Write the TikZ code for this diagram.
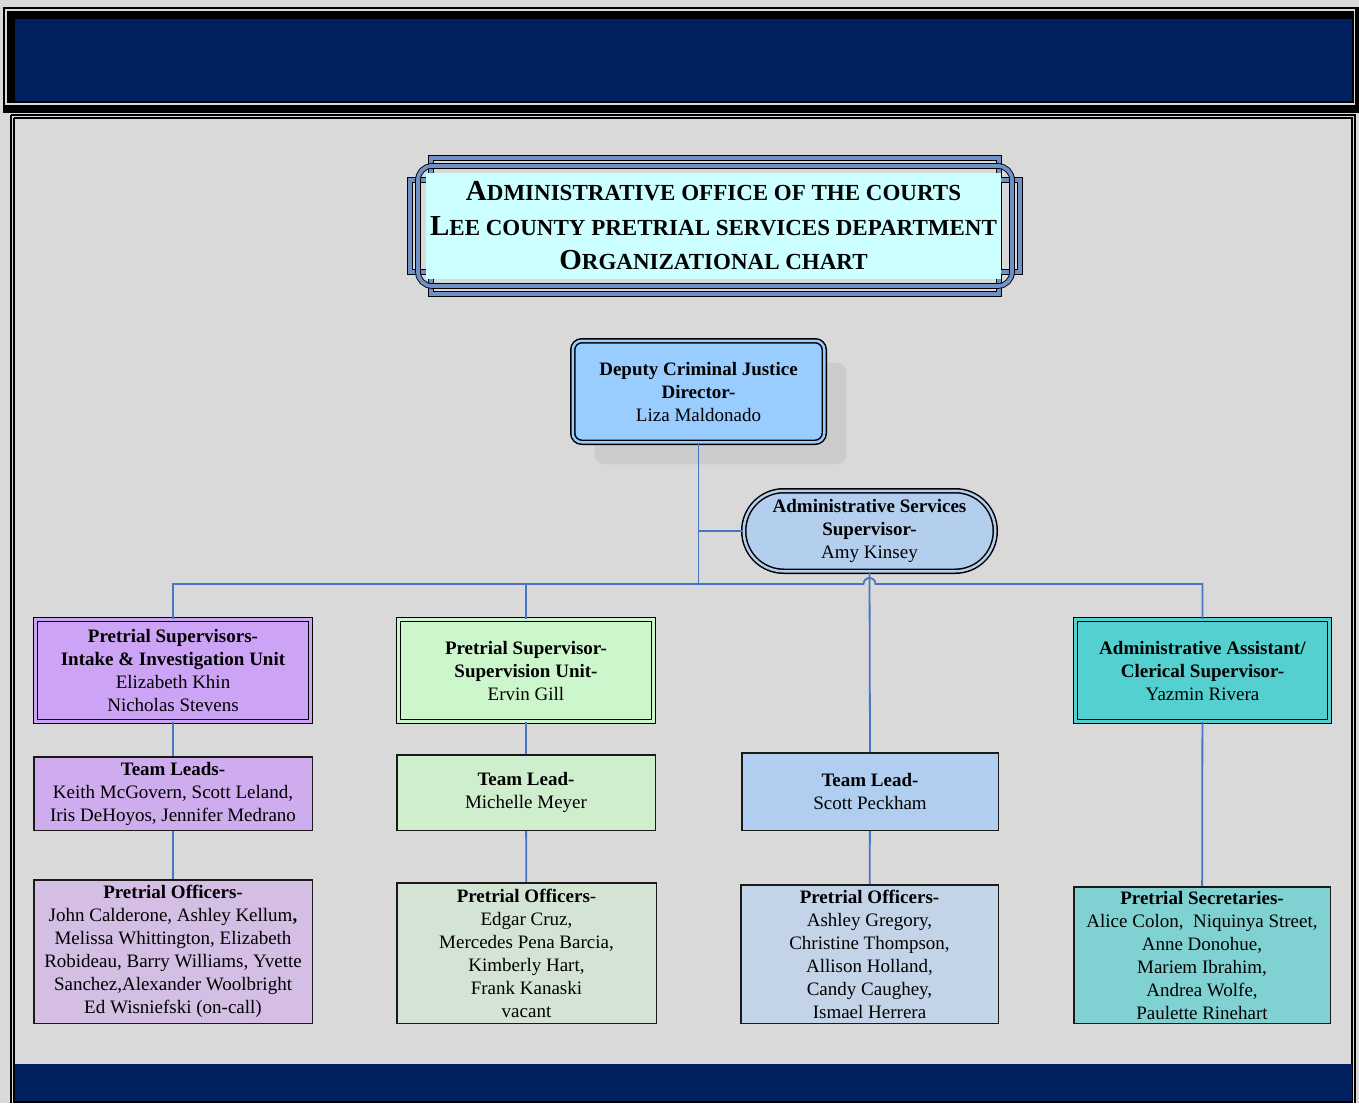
\documentclass[tikz,border=0pt]{standalone}
\usepackage{fontspec}
\setmainfont{Liberation Serif}
\usetikzlibrary{positioning,shadows}
\definecolor{pagegray}{RGB}{217,217,217}
\definecolor{shadowgray}{RGB}{204,204,204}
\definecolor{navy}{RGB}{0,32,96}
\definecolor{titlecyan}{RGB}{204,255,255}
\definecolor{frameblue}{RGB}{112,144,200}
\definecolor{linkblue}{RGB}{72,118,196}
\definecolor{dirblue}{RGB}{153,204,255}
\definecolor{adsblue}{RGB}{180,206,238}
\definecolor{purpleA}{RGB}{205,163,245}
\definecolor{purpleB}{RGB}{206,172,238}
\definecolor{purpleC}{RGB}{212,190,228}
\definecolor{greenA}{RGB}{204,247,204}
\definecolor{greenB}{RGB}{206,238,206}
\definecolor{greenC}{RGB}{212,228,212}
\definecolor{blueB}{RGB}{176,206,240}
\definecolor{blueC}{RGB}{196,212,232}
\definecolor{tealA}{RGB}{84,208,208}
\definecolor{tealC}{RGB}{128,210,210}
\newcommand{\initcap}[1]{{\fontsize{29}{34.5}\selectfont #1}}

\begin{document}
\begin{tikzpicture}[x=1pt, y=-1pt]
    \tikzset{
        every node/.style={font=\fontsize{19}{23}\selectfont, align=center, inner sep=0pt},
        link/.style={draw=linkblue, line width=1.8pt},
        frame/.style={draw=black, double=frameblue, double distance=3.8pt, line width=0.9pt},
        titlebox/.style={fill=titlecyan, minimum width=575pt, minimum height=106pt,
            font=\fontsize{23}{34.5}\selectfont\bfseries},
        dirbox/.style={draw=black, double=dirblue, fill=dirblue, double distance=2.5pt, line width=1.5pt, rounded corners=9pt,
            drop shadow={shadow xshift=22pt, shadow yshift=-22pt, fill=shadowgray, opacity=1}},
        ovalbox/.style={draw=black, double=adsblue, fill=adsblue, double distance=2.5pt, line width=1.5pt, rounded corners=40pt},
        supbox/.style={draw=black, line width=1.2pt, double distance=2.5pt},
        staffbox/.style={draw=black!90, line width=1.5pt}
    }

    % page, banners and panel
    \useasboundingbox (0,0) rectangle (1359,1103);
    \fill[pagegray] (0,0) rectangle (1359,1103);
    \fill[black] (3,7) rectangle (1359,113);
    \fill[pagegray] (5,9) rectangle (1355,105);
    \fill[black] (7,11) rectangle (1354,103);
    \fill[navy] (15,19) rectangle (1352,101);
    \draw[line width=2pt] (11,115) -- (11,1103) (11,115) -- (1355,115) -- (1355,1103);
    \draw[line width=2pt] (14,118) -- (14,1103) (14,118) -- (1352,118) -- (1352,1103);
    \fill[black] (15,1064) rectangle (1352,1103);
    \fill[navy] (15,1064) rectangle (1352,1101);

    % title frames
    \draw[frame] (431,158) rectangle (999,294);
    \draw[frame] (410,180) rectangle (1020,272);
    \draw[frame, rounded corners=14pt] (418,166) rectangle (1012,286);
    \node[titlebox] (title) at (713.5,226) {
        \initcap{A}DMINISTRATIVE OFFICE OF THE COURTS\\
        \initcap{L}EE COUNTY PRETRIAL SERVICES DEPARTMENT\\
        \initcap{O}RGANIZATIONAL CHART};

    % top of the chart
    \node[dirbox, minimum width=251.5pt, minimum height=101.5pt] (dir) at (698.5,391.5)
        {\textbf{Deputy Criminal Justice}\\\textbf{Director-}\\Liza Maldonado};
    \node[ovalbox, minimum width=251.5pt, minimum height=80.5pt] (ads) at (869.5,531)
        {\textbf{Administrative Services}\\\textbf{Supervisor-}\\Amy Kinsey};

    % supervisors
    \node[supbox, double=purpleA, fill=purpleA, minimum width=275pt, minimum height=102pt] (isup) at (173,670.5)
        {\textbf{Pretrial Supervisors-}\\\textbf{Intake \& Investigation Unit}\\Elizabeth Khin\\Nicholas Stevens};
    \node[supbox, double=greenA, fill=greenA, minimum width=255pt, minimum height=102pt] (ssup) at (526,670.5)
        {\textbf{Pretrial Supervisor-}\\\textbf{Supervision Unit-}\\Ervin Gill};
    \node[supbox, double=tealA, fill=tealA, minimum width=254pt, minimum height=102pt] (csup) at (1202.5,670.5)
        {\textbf{Administrative Assistant/}\\\textbf{Clerical Supervisor-}\\Yazmin Rivera};

    % team leads
    \node[staffbox, fill=purpleB, minimum width=278.5pt, minimum height=73.5pt] (ilead) at (173,793.5)
        {\textbf{Team Leads-}\\Keith McGovern, Scott Leland,\\Iris DeHoyos, Jennifer Medrano};
    \node[staffbox, fill=greenB, minimum width=258.5pt, minimum height=75.5pt] (slead) at (526,792.5)
        {\textbf{Team Lead-}\\Michelle Meyer};
    \node[staffbox, fill=blueB, minimum width=256.5pt, minimum height=77.5pt] (plead) at (870,791.5)
        {\textbf{Team Lead-}\\Scott Peckham};

    % officers and secretaries
    \node[staffbox, fill=purpleC, minimum width=278.5pt, minimum height=143.5pt] (ioff) at (173,951.5)
        {\textbf{Pretrial Officers-}\\John Calderone, Ashley Kellum\textbf{,}\\Melissa Whittington, Elizabeth\\Robideau, Barry Williams, Yvette\\Sanchez,Alexander Woolbright\\Ed Wisniefski (on-call)};
    \node[staffbox, fill=greenC, minimum width=259.5pt, minimum height=140.5pt] (soff) at (526.5,953)
        {\textbf{Pretrial Officers}-\\Edgar Cruz,\\Mercedes Pena Barcia,\\Kimberly Hart,\\Frank Kanaski\\vacant};
    \node[staffbox, fill=blueC, minimum width=257.5pt, minimum height=138.5pt] (poff) at (869.5,954)
        {\textbf{Pretrial Officers-}\\Ashley Gregory,\\Christine Thompson,\\Allison Holland,\\Candy Caughey,\\Ismael Herrera};
    \node[staffbox, fill=tealC, minimum width=256.5pt, minimum height=136.5pt] (csec) at (1202,955)
        {\textbf{Pretrial Secretaries-}\\Alice Colon,\ \ Niquinya Street,\\Anne Donohue,\\Mariem Ibrahim,\\Andrea Wolfe,\\Paulette Rinehart};

    % connectors
    \coordinate (bus) at (698.5,584);
    \coordinate (hop) at (ads.south |- bus);
    \draw[link] (dir.south) -- (bus);
    \draw[link] (dir.south |- ads.west) -- (ads.west);
    \draw[link] (isup.north) -- (isup.north |- bus) -- ([xshift=-6pt]hop)
        arc[start angle=180, end angle=0, radius=6pt] -- (csup.north |- bus) -- (csup.north);
    \draw[link] (ssup.north) -- (ssup.north |- bus);
    \draw[link] (ads.south) -- (plead.north);
    \draw[link] (isup) -- (ilead) (ilead) -- (ioff);
    \draw[link] (ssup) -- (slead) (slead) -- (soff);
    \draw[link] (plead) -- (poff);
    \draw[link] (csup) -- (csec);
\end{tikzpicture}
\end{document}
